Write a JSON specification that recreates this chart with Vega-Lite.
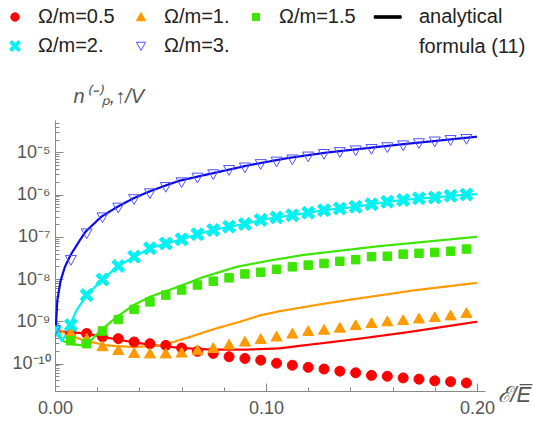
{
"$schema": "https://vega.github.io/schema/vega-lite/v6.json",
"width": 430, "height": 271,
"autosize": {"type": "none"},
"padding": {"left": 55, "top": 120, "right": 48, "bottom": 30},
"config": {"view": {"stroke": null}, "font": "Liberation Sans"},
"datasets": {
"pts": [
{"s":"Ω/m=0.5","x":0,"y":5.89e-10},{"s":"Ω/m=0.5","x":0.0075,"y":5.50e-10},{"s":"Ω/m=0.5","x":0.015,"y":5.13e-10},{"s":"Ω/m=0.5","x":0.0225,"y":4.27e-10},{"s":"Ω/m=0.5","x":0.03,"y":3.89e-10},{"s":"Ω/m=0.5","x":0.0375,"y":3.24e-10},{"s":"Ω/m=0.5","x":0.045,"y":2.95e-10},{"s":"Ω/m=0.5","x":0.0525,"y":2.69e-10},{"s":"Ω/m=0.5","x":0.06,"y":2.34e-10},{"s":"Ω/m=0.5","x":0.0675,"y":1.95e-10},{"s":"Ω/m=0.5","x":0.075,"y":1.74e-10},{"s":"Ω/m=0.5","x":0.0825,"y":1.45e-10},{"s":"Ω/m=0.5","x":0.09,"y":1.32e-10},{"s":"Ω/m=0.5","x":0.0975,"y":1.20e-10},{"s":"Ω/m=0.5","x":0.105,"y":1.02e-10},{"s":"Ω/m=0.5","x":0.1125,"y":9.12e-11},{"s":"Ω/m=0.5","x":0.12,"y":8.13e-11},{"s":"Ω/m=0.5","x":0.1275,"y":7.41e-11},{"s":"Ω/m=0.5","x":0.135,"y":6.61e-11},{"s":"Ω/m=0.5","x":0.1425,"y":6.03e-11},{"s":"Ω/m=0.5","x":0.15,"y":5.25e-11},{"s":"Ω/m=0.5","x":0.1575,"y":5.01e-11},{"s":"Ω/m=0.5","x":0.165,"y":4.57e-11},{"s":"Ω/m=0.5","x":0.1725,"y":4.27e-11},{"s":"Ω/m=0.5","x":0.18,"y":3.89e-11},{"s":"Ω/m=0.5","x":0.1875,"y":3.72e-11},{"s":"Ω/m=0.5","x":0.195,"y":3.47e-11},
{"s":"Ω/m=1.","x":0,"y":5.89e-10},{"s":"Ω/m=1.","x":0.0075,"y":5.25e-10},{"s":"Ω/m=1.","x":0.015,"y":3.89e-10},{"s":"Ω/m=1.","x":0.0225,"y":2.57e-10},{"s":"Ω/m=1.","x":0.03,"y":2.09e-10},{"s":"Ω/m=1.","x":0.0375,"y":1.78e-10},{"s":"Ω/m=1.","x":0.045,"y":1.74e-10},{"s":"Ω/m=1.","x":0.0525,"y":1.74e-10},{"s":"Ω/m=1.","x":0.06,"y":1.82e-10},{"s":"Ω/m=1.","x":0.0675,"y":2.09e-10},{"s":"Ω/m=1.","x":0.075,"y":2.34e-10},{"s":"Ω/m=1.","x":0.0825,"y":2.82e-10},{"s":"Ω/m=1.","x":0.09,"y":3.31e-10},{"s":"Ω/m=1.","x":0.0975,"y":3.80e-10},{"s":"Ω/m=1.","x":0.105,"y":4.37e-10},{"s":"Ω/m=1.","x":0.1125,"y":5.13e-10},{"s":"Ω/m=1.","x":0.12,"y":5.89e-10},{"s":"Ω/m=1.","x":0.1275,"y":6.31e-10},{"s":"Ω/m=1.","x":0.135,"y":7.08e-10},{"s":"Ω/m=1.","x":0.1425,"y":8.13e-10},{"s":"Ω/m=1.","x":0.15,"y":9.12e-10},{"s":"Ω/m=1.","x":0.1575,"y":1.00e-9},{"s":"Ω/m=1.","x":0.165,"y":1.07e-9},{"s":"Ω/m=1.","x":0.1725,"y":1.17e-9},{"s":"Ω/m=1.","x":0.18,"y":1.26e-9},{"s":"Ω/m=1.","x":0.1875,"y":1.38e-9},{"s":"Ω/m=1.","x":0.195,"y":1.58e-9},
{"s":"Ω/m=1.5","x":0,"y":5.89e-10},{"s":"Ω/m=1.5","x":0.0075,"y":3.47e-10},{"s":"Ω/m=1.5","x":0.015,"y":2.95e-10},{"s":"Ω/m=1.5","x":0.0225,"y":5.89e-10},{"s":"Ω/m=1.5","x":0.03,"y":1.10e-9},{"s":"Ω/m=1.5","x":0.0375,"y":1.91e-9},{"s":"Ω/m=1.5","x":0.045,"y":2.88e-9},{"s":"Ω/m=1.5","x":0.0525,"y":4.17e-9},{"s":"Ω/m=1.5","x":0.06,"y":5.50e-9},{"s":"Ω/m=1.5","x":0.0675,"y":7.24e-9},{"s":"Ω/m=1.5","x":0.075,"y":8.91e-9},{"s":"Ω/m=1.5","x":0.0825,"y":1.07e-8},{"s":"Ω/m=1.5","x":0.09,"y":1.32e-8},{"s":"Ω/m=1.5","x":0.0975,"y":1.45e-8},{"s":"Ω/m=1.5","x":0.105,"y":1.70e-8},{"s":"Ω/m=1.5","x":0.1125,"y":1.95e-8},{"s":"Ω/m=1.5","x":0.12,"y":2.14e-8},{"s":"Ω/m=1.5","x":0.1275,"y":2.34e-8},{"s":"Ω/m=1.5","x":0.135,"y":2.63e-8},{"s":"Ω/m=1.5","x":0.1425,"y":2.88e-8},{"s":"Ω/m=1.5","x":0.15,"y":3.39e-8},{"s":"Ω/m=1.5","x":0.1575,"y":3.47e-8},{"s":"Ω/m=1.5","x":0.165,"y":3.89e-8},{"s":"Ω/m=1.5","x":0.1725,"y":4.07e-8},{"s":"Ω/m=1.5","x":0.18,"y":4.27e-8},{"s":"Ω/m=1.5","x":0.1875,"y":4.57e-8},{"s":"Ω/m=1.5","x":0.195,"y":5.13e-8},
{"s":"Ω/m=2.","x":0,"y":5.89e-10},{"s":"Ω/m=2.","x":0.0075,"y":8.13e-10},{"s":"Ω/m=2.","x":0.015,"y":4.17e-9},{"s":"Ω/m=2.","x":0.0225,"y":9.77e-9},{"s":"Ω/m=2.","x":0.03,"y":2.04e-8},{"s":"Ω/m=2.","x":0.0375,"y":3.39e-8},{"s":"Ω/m=2.","x":0.045,"y":5.37e-8},{"s":"Ω/m=2.","x":0.0525,"y":6.92e-8},{"s":"Ω/m=2.","x":0.06,"y":8.71e-8},{"s":"Ω/m=2.","x":0.0675,"y":1.15e-7},{"s":"Ω/m=2.","x":0.075,"y":1.45e-7},{"s":"Ω/m=2.","x":0.0825,"y":1.74e-7},{"s":"Ω/m=2.","x":0.09,"y":2.00e-7},{"s":"Ω/m=2.","x":0.0975,"y":2.51e-7},{"s":"Ω/m=2.","x":0.105,"y":2.88e-7},{"s":"Ω/m=2.","x":0.1125,"y":3.24e-7},{"s":"Ω/m=2.","x":0.12,"y":3.72e-7},{"s":"Ω/m=2.","x":0.1275,"y":4.27e-7},{"s":"Ω/m=2.","x":0.135,"y":4.68e-7},{"s":"Ω/m=2.","x":0.1425,"y":5.13e-7},{"s":"Ω/m=2.","x":0.15,"y":5.89e-7},{"s":"Ω/m=2.","x":0.1575,"y":6.76e-7},{"s":"Ω/m=2.","x":0.165,"y":7.41e-7},{"s":"Ω/m=2.","x":0.1725,"y":8.13e-7},{"s":"Ω/m=2.","x":0.18,"y":8.51e-7},{"s":"Ω/m=2.","x":0.1875,"y":9.33e-7},{"s":"Ω/m=2.","x":0.195,"y":1.00e-6},
{"s":"Ω/m=3.","x":0,"y":6.17e-10},{"s":"Ω/m=3.","x":0.0075,"y":2.82e-8},{"s":"Ω/m=3.","x":0.015,"y":1.20e-7},{"s":"Ω/m=3.","x":0.0225,"y":2.88e-7},{"s":"Ω/m=3.","x":0.03,"y":4.90e-7},{"s":"Ω/m=3.","x":0.0375,"y":7.76e-7},{"s":"Ω/m=3.","x":0.045,"y":1.07e-6},{"s":"Ω/m=3.","x":0.0525,"y":1.51e-6},{"s":"Ω/m=3.","x":0.06,"y":1.95e-6},{"s":"Ω/m=3.","x":0.0675,"y":2.51e-6},{"s":"Ω/m=3.","x":0.075,"y":3.02e-6},{"s":"Ω/m=3.","x":0.0825,"y":3.80e-6},{"s":"Ω/m=3.","x":0.09,"y":4.37e-6},{"s":"Ω/m=3.","x":0.0975,"y":5.25e-6},{"s":"Ω/m=3.","x":0.105,"y":6.03e-6},{"s":"Ω/m=3.","x":0.1125,"y":6.76e-6},{"s":"Ω/m=3.","x":0.12,"y":7.94e-6},{"s":"Ω/m=3.","x":0.1275,"y":9.12e-6},{"s":"Ω/m=3.","x":0.135,"y":1.01e-5},{"s":"Ω/m=3.","x":0.1425,"y":1.11e-5},{"s":"Ω/m=3.","x":0.15,"y":1.20e-5},{"s":"Ω/m=3.","x":0.1575,"y":1.32e-5},{"s":"Ω/m=3.","x":0.165,"y":1.46e-5},{"s":"Ω/m=3.","x":0.1725,"y":1.64e-5},{"s":"Ω/m=3.","x":0.18,"y":1.80e-5},{"s":"Ω/m=3.","x":0.1875,"y":1.95e-5},{"s":"Ω/m=3.","x":0.195,"y":2.07e-5}
],
"curves": [
{"curve":"Ω/m=0.5","x":0.0002,"y":5.89e-10},{"curve":"Ω/m=0.5","x":0.015,"y":5.13e-10},{"curve":"Ω/m=0.5","x":0.0292,"y":3.72e-10},{"curve":"Ω/m=0.5","x":0.0442,"y":2.82e-10},{"curve":"Ω/m=0.5","x":0.0592,"y":2.34e-10},{"curve":"Ω/m=0.5","x":0.075,"y":2.14e-10},{"curve":"Ω/m=0.5","x":0.0908,"y":2.14e-10},{"curve":"Ω/m=0.5","x":0.1066,"y":2.29e-10},{"curve":"Ω/m=0.5","x":0.1177,"y":2.69e-10},{"curve":"Ω/m=0.5","x":0.128,"y":3.09e-10},{"curve":"Ω/m=0.5","x":0.1445,"y":3.89e-10},{"curve":"Ω/m=0.5","x":0.1682,"y":5.62e-10},{"curve":"Ω/m=0.5","x":0.184,"y":7.41e-10},{"curve":"Ω/m=0.5","x":0.2,"y":9.77e-10},
{"curve":"Ω/m=1.","x":0.0002,"y":6.46e-10},{"curve":"Ω/m=1.","x":0.0071,"y":4.68e-10},{"curve":"Ω/m=1.","x":0.0134,"y":3.55e-10},{"curve":"Ω/m=1.","x":0.0245,"y":2.69e-10},{"curve":"Ω/m=1.","x":0.0371,"y":2.45e-10},{"curve":"Ω/m=1.","x":0.0498,"y":2.69e-10},{"curve":"Ω/m=1.","x":0.0561,"y":3.24e-10},{"curve":"Ω/m=1.","x":0.064,"y":4.27e-10},{"curve":"Ω/m=1.","x":0.075,"y":6.46e-10},{"curve":"Ω/m=1.","x":0.0877,"y":9.77e-10},{"curve":"Ω/m=1.","x":0.0972,"y":1.38e-9},{"curve":"Ω/m=1.","x":0.1066,"y":1.74e-9},{"curve":"Ω/m=1.","x":0.128,"y":2.63e-9},{"curve":"Ω/m=1.","x":0.1383,"y":3.16e-9},{"curve":"Ω/m=1.","x":0.1698,"y":5.37e-9},{"curve":"Ω/m=1.","x":0.2,"y":8.13e-9},
{"curve":"Ω/m=1.5","x":0.0002,"y":6.17e-10},{"curve":"Ω/m=1.5","x":0.004,"y":3.39e-10},{"curve":"Ω/m=1.5","x":0.008,"y":2.88e-10},{"curve":"Ω/m=1.5","x":0.013,"y":2.69e-10},{"curve":"Ω/m=1.5","x":0.017,"y":3.55e-10},{"curve":"Ω/m=1.5","x":0.0218,"y":6.17e-10},{"curve":"Ω/m=1.5","x":0.0292,"y":1.26e-9},{"curve":"Ω/m=1.5","x":0.0371,"y":2.40e-9},{"curve":"Ω/m=1.5","x":0.045,"y":3.80e-9},{"curve":"Ω/m=1.5","x":0.0585,"y":6.61e-9},{"curve":"Ω/m=1.5","x":0.0704,"y":1.12e-8},{"curve":"Ω/m=1.5","x":0.0861,"y":1.95e-8},{"curve":"Ω/m=1.5","x":0.1019,"y":2.75e-8},{"curve":"Ω/m=1.5","x":0.1177,"y":3.72e-8},{"curve":"Ω/m=1.5","x":0.154,"y":6.03e-8},{"curve":"Ω/m=1.5","x":0.2,"y":1.0e-7},
{"curve":"Ω/m=2.","x":0.0002,"y":6.17e-10},{"curve":"Ω/m=2.","x":0.0015,"y":4.68e-10},{"curve":"Ω/m=2.","x":0.0032,"y":3.47e-10},{"curve":"Ω/m=2.","x":0.0055,"y":5.13e-10},{"curve":"Ω/m=2.","x":0.0071,"y":8.13e-10},{"curve":"Ω/m=2.","x":0.0102,"y":1.82e-9},{"curve":"Ω/m=2.","x":0.015,"y":4.17e-9},{"curve":"Ω/m=2.","x":0.0225,"y":9.77e-9},{"curve":"Ω/m=2.","x":0.03,"y":2.04e-8},{"curve":"Ω/m=2.","x":0.0375,"y":3.39e-8},{"curve":"Ω/m=2.","x":0.045,"y":5.37e-8},{"curve":"Ω/m=2.","x":0.0525,"y":6.92e-8},{"curve":"Ω/m=2.","x":0.06,"y":8.71e-8},{"curve":"Ω/m=2.","x":0.0675,"y":1.15e-7},{"curve":"Ω/m=2.","x":0.075,"y":1.45e-7},{"curve":"Ω/m=2.","x":0.0825,"y":1.74e-7},{"curve":"Ω/m=2.","x":0.09,"y":2.00e-7},{"curve":"Ω/m=2.","x":0.0975,"y":2.51e-7},{"curve":"Ω/m=2.","x":0.105,"y":2.88e-7},{"curve":"Ω/m=2.","x":0.1125,"y":3.24e-7},{"curve":"Ω/m=2.","x":0.12,"y":3.72e-7},{"curve":"Ω/m=2.","x":0.1275,"y":4.27e-7},{"curve":"Ω/m=2.","x":0.135,"y":4.68e-7},{"curve":"Ω/m=2.","x":0.1425,"y":5.13e-7},{"curve":"Ω/m=2.","x":0.15,"y":5.89e-7},{"curve":"Ω/m=2.","x":0.1575,"y":6.76e-7},{"curve":"Ω/m=2.","x":0.165,"y":7.41e-7},{"curve":"Ω/m=2.","x":0.1725,"y":8.13e-7},{"curve":"Ω/m=2.","x":0.18,"y":8.51e-7},{"curve":"Ω/m=2.","x":0.1875,"y":9.33e-7},{"curve":"Ω/m=2.","x":0.2,"y":1.02e-6},
{"curve":"Ω/m=3.","x":0.0002,"y":4.68e-10},{"curve":"Ω/m=3.","x":0.0011,"y":3.16e-9},{"curve":"Ω/m=3.","x":0.0027,"y":9.33e-9},{"curve":"Ω/m=3.","x":0.0047,"y":1.95e-8},{"curve":"Ω/m=3.","x":0.0074,"y":3.72e-8},{"curve":"Ω/m=3.","x":0.0118,"y":8.32e-8},{"curve":"Ω/m=3.","x":0.0145,"y":1.32e-7},{"curve":"Ω/m=3.","x":0.0218,"y":2.95e-7},{"curve":"Ω/m=3.","x":0.0292,"y":5.01e-7},{"curve":"Ω/m=3.","x":0.0371,"y":8.13e-7},{"curve":"Ω/m=3.","x":0.0445,"y":1.17e-6},{"curve":"Ω/m=3.","x":0.0521,"y":1.62e-6},{"curve":"Ω/m=3.","x":0.0592,"y":2.14e-6},{"curve":"Ω/m=3.","x":0.0743,"y":3.16e-6},{"curve":"Ω/m=3.","x":0.0924,"y":5.01e-6},{"curve":"Ω/m=3.","x":0.1098,"y":7.24e-6},{"curve":"Ω/m=3.","x":0.128,"y":9.77e-6},{"curve":"Ω/m=3.","x":0.1635,"y":1.53e-5},{"curve":"Ω/m=3.","x":0.2,"y":2.34e-5}
]
},
"layer": [
{
"data": {"name": "curves"},
"mark": {"type": "line", "strokeWidth": 2.2, "clip": true},
"encoding": {
"x": {"field": "x", "type": "quantitative", "scale": {"domain": [0, 0.2038], "nice": false, "zero": false},
 "axis": {"values": [0,0.01,0.02,0.03,0.04,0.05,0.06,0.07,0.08,0.09,0.1,0.11,0.12,0.13,0.14,0.15,0.16,0.17,0.18,0.19,0.2],
  "labelExpr": "abs(datum.value*20 - round(datum.value*20)) < 1e-6 ? format(datum.value, '.2f') : ''",
  "labelFontSize": 18, "labelColor": "#555", "labelOverlap": false, "labelFlush": false, "labelPadding": 16,
  "domainColor": "#888", "tickColor": "#888",
  "tickSize": {"condition": {"test": "abs(datum.value*20 - round(datum.value*20)) < 1e-6", "value": -8}, "value": -4},
  "grid": false,
  "title": "ℰ/E̅", "titleX": 442, "titleY": 10, "titleAlign": "left", "titleBaseline": "alphabetic",
  "titleFontSize": 22, "titleFontStyle": "italic", "titleFontWeight": "normal", "titleColor": "#555"}},
"y": {"field": "y", "type": "quantitative", "scale": {"type": "log", "domain": [2.24e-11, 5.82e-5], "nice": false},
 "axis": {"values": [3e-11,4e-11,5e-11,6e-11,7e-11,8e-11,9e-11,1e-10,2e-10,3e-10,4e-10,5e-10,6e-10,7e-10,8e-10,9e-10,1e-9,2e-9,3e-9,4e-9,5e-9,6e-9,7e-9,8e-9,9e-9,1e-8,2e-8,3e-8,4e-8,5e-8,6e-8,7e-8,8e-8,9e-8,1e-7,2e-7,3e-7,4e-7,5e-7,6e-7,7e-7,8e-7,9e-7,1e-6,2e-6,3e-6,4e-6,5e-6,6e-6,7e-6,8e-6,9e-6,1e-5,2e-5,3e-5,4e-5,5e-5],
  "labelExpr": "abs(log(datum.value)/LN10 - round(log(datum.value)/LN10)) < 0.01 ? ['10⁻¹¹','10⁻¹⁰','10⁻⁹','10⁻⁸','10⁻⁷','10⁻⁶','10⁻⁵','10⁻⁴'][round(log(datum.value)/LN10)+11] : ''",
  "labelFontSize": 18, "labelColor": "#555", "labelOverlap": false, "labelFlush": false, "labelPadding": 13,
  "domainColor": "#888", "tickColor": "#888",
  "tickSize": {"condition": {"test": "abs(log(datum.value)/LN10 - round(log(datum.value)/LN10)) < 0.01", "value": -8}, "value": -4},
  "grid": false,
  "title": "n⁽⁻⁾ₚ,↑/V", "titleAngle": 0, "titleX": 18, "titleY": -18, "titleAlign": "left", "titleBaseline": "alphabetic",
  "titleFontSize": 20, "titleFontStyle": "italic", "titleFontWeight": "normal", "titleColor": "#555"}},
"color": {"field": "curve", "type": "nominal", "scale": {"domain": ["Ω/m=0.5","Ω/m=1.","Ω/m=1.5","Ω/m=2.","Ω/m=3."], "range": ["#ff0000","#ff9a00","#3de600","#00f2f2","#0a0ae8"]}, "legend": null},
"strokeDash": {"datum": "formula (11)", "type": "nominal", "scale": {"domain": ["formula (11)"], "range": [[1,0]]},
 "legend": {"orient": "none", "legendX": 344, "legendY": -83, "title": null, "padding": 0, "symbolSize": 1, "symbolOpacity": 0, "symbolStrokeWidth": 0, "labelFontSize": 20, "labelColor": "#222", "labelOffset": 0, "labelLimit": 0}}
}
},
{
"data": {"name": "pts"},
"mark": {"type": "point", "opacity": 1, "strokeWidth": 1, "size": 100, "clip": true},
"encoding": {
"x": {"field": "x", "type": "quantitative"},
"y": {"field": "y", "type": "quantitative"},
"fill": {"field": "s", "type": "nominal", "scale": {"domain": ["Ω/m=0.5","Ω/m=2.","Ω/m=1.","Ω/m=3.","Ω/m=1.5","blank1","analytical","blank2"], "range": ["#ff0000","#00f2f2","#ff9a00","transparent","#3de600","transparent","#000000","transparent"]}},
"stroke": {"field": "s", "type": "nominal", "scale": {"domain": ["Ω/m=0.5","Ω/m=2.","Ω/m=1.","Ω/m=3.","Ω/m=1.5","blank1","analytical","blank2"], "range": ["#ff0000","#00f2f2","#ff9a00","#5050ff","#3de600","transparent","#000000","transparent"]}},
"shape": {"field": "s", "type": "nominal", "scale": {"domain": ["Ω/m=0.5","Ω/m=2.","Ω/m=1.","Ω/m=3.","Ω/m=1.5","blank1","analytical","blank2"], "range": ["circle", "M-1.3,-0.75L-0.75,-1.3L0,-0.55L0.75,-1.3L1.3,-0.75L0.55,0L1.3,0.75L0.75,1.3L0,0.55L-0.75,1.3L-1.3,0.75L-0.55,0Z", "M0,-1.05L1.1,0.9L-1.1,0.9Z", "M0,1.05L1.1,-0.9L-1.1,-0.9Z", "M-0.85,-0.85H0.85V0.85H-0.85Z", "circle", "M-5.2,-0.3H1.24V0.3H-5.2Z", "circle"]},
 "legend": {"orient": "none", "legendX": -50, "legendY": -113, "title": null, "padding": 0, "columns": 4, "gridAlign": "none", "columnPadding": 16, "rowPadding": 9, "symbolSize": 70, "symbolStrokeWidth": 1, "labelFontSize": 20, "labelColor": "#222", "labelOffset": 13, "labelLimit": 0,
  "labelExpr": "datum.label == 'blank1' || datum.label == 'blank2' ? '' : datum.label"}}
}
}
]
}
